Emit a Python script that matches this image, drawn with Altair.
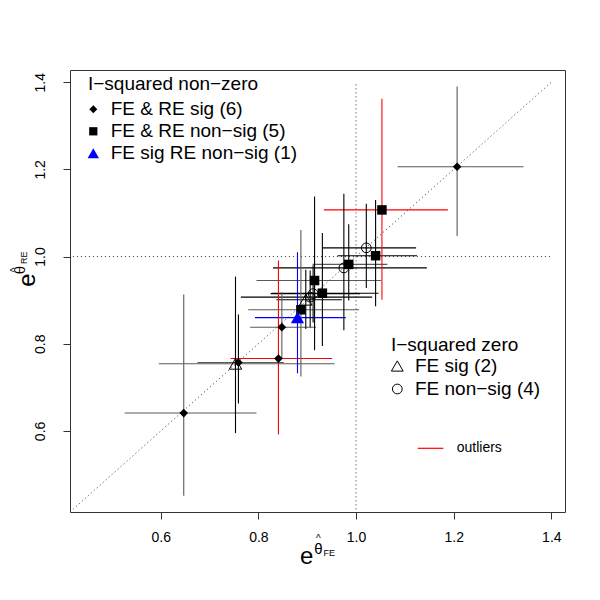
import altair as alt
import pandas as pd

FONT = "Liberation Sans"

# ---------------- data ----------------
point_id = list("ABCDEFGHIJKLMNOPQR")
kind = ["FE & RE sig", "FE & RE non-sig", "FE non-sig", "FE & RE non-sig", "FE & RE non-sig",
        "FE non-sig", "FE & RE non-sig", "FE & RE non-sig", "FE non-sig", "FE sig",
        "FE non-sig", "FE & RE non-sig", "FE sig RE non-sig", "FE & RE sig", "FE & RE sig",
        "FE & RE sig", "FE sig", "FE & RE sig"]
fe = [1.207, 1.053, 1.021, 1.040, 0.985, 0.975, 0.915, 0.931, 0.912, 0.897,
      0.906, 0.887, 0.880, 0.848, 0.841, 0.759, 0.753, 0.647]
re = [1.206, 1.107, 1.020, 1.002, 0.982, 0.974, 0.945, 0.916, 0.915, 0.901,
      0.907, 0.878, 0.860, 0.838, 0.766, 0.757, 0.754, 0.641]
fe_lo = [1.085, 0.934, 0.931, 0.962, 0.911, 0.830, 0.796, 0.827, 0.825, 0.837,
         0.764, 0.779, 0.793, 0.783, 0.743, 0.675, 0.596, 0.526]
fe_hi = [1.343, 1.188, 1.123, 1.125, 1.064, 1.145, 1.051, 1.046, 1.008, 0.971,
         1.033, 1.006, 0.979, 0.918, 0.951, 0.852, 0.956, 0.796]
re_lo = [1.047, 0.901, 0.928, 0.886, 0.899, 0.831, 0.785, 0.795, 0.849, 0.834,
         0.838, 0.725, 0.732, 0.766, 0.592, 0.663, 0.595, 0.451]
re_hi = [1.390, 1.362, 1.121, 1.130, 1.074, 1.144, 1.138, 1.054, 0.980, 0.970,
         0.968, 1.061, 1.010, 0.918, 0.991, 0.867, 0.954, 0.913]
h_group = ["sig", "outlier", "non-sig", "non-sig", "sig", "non-sig", "sig", "non-sig", "non-sig",
           "non-sig", "non-sig", "sig", "blue", "sig", "outlier", "sig", "sig", "sig"]
v_group = ["sig", "outlier", "non-sig", "non-sig", "non-sig", "non-sig", "non-sig", "non-sig",
           "non-sig", "non-sig", "non-sig", "sig", "blue", "sig", "outlier", "non-sig", "non-sig", "sig"]

ticks = [0.6, 0.8, 1.0, 1.2, 1.4]
ref_x = [0.42, 1.0, 0.42]
ref_y = [1.0, 0.42, 0.42]
ref_x2 = [1.40, 1.0, 1.40]
ref_y2 = [1.0, 1.40, 1.40]

df = pd.DataFrame(dict(id=point_id, kind=kind, fe=fe, re=re, fe_lo=fe_lo, fe_hi=fe_hi,
                       re_lo=re_lo, re_hi=re_hi, hgrp=h_group, vgrp=v_group))
ref = pd.DataFrame(dict(x=ref_x, y=ref_y, x2=ref_x2, y2=ref_y2))
one = pd.DataFrame({"k": [0]})

xs = alt.Scale(domain=[0.414, 1.428], nice=False, zero=False)
ys = alt.Scale(domain=[0.414, 1.428], nice=False, zero=False)
cs = alt.Scale(domain=["non-sig", "sig", "outlier", "blue"],
               range=["#000000", "#5a5a5a", "#ff0000", "#0000ff"])

xaxis = alt.Axis(values=ticks, format=".1f", title=None, grid=False, domain=False,
                 tickSize=7, tickColor="#333333", labelPadding=11, labelFontSize=14,
                 labelFont=FONT, labelColor="#000000")
yaxis = alt.Axis(values=ticks, format=".1f", title=None, grid=False, domain=False,
                 tickSize=7, tickColor="#333333", labelPadding=16, labelFontSize=14,
                 labelFont=FONT, labelColor="#000000", labelAngle=270,
                 labelAlign="center", labelBaseline="bottom")


def X(f):
    return alt.X(f, type="quantitative", scale=xs, axis=xaxis)


def Y(f):
    return alt.Y(f, type="quantitative", scale=ys, axis=yaxis)


refs = alt.Chart(ref).mark_rule(strokeDash=[1, 3], color="#333333", strokeWidth=1).encode(
    x=X("x"), y=Y("y"), x2="x2", y2="y2")

hbars = alt.Chart(df).mark_rule(strokeWidth=1.1).encode(
    x=X("fe_lo"), x2="fe_hi", y=Y("re"),
    color=alt.Color("hgrp:N", scale=cs, legend=None))
vbars = alt.Chart(df).mark_rule(strokeWidth=1.1).encode(
    x=X("fe"), y=Y("re_lo"), y2="re_hi",
    color=alt.Color("vgrp:N", scale=cs, legend=None))


def pts(k, **kw):
    return alt.Chart(df).transform_filter(alt.datum.kind == k).mark_point(opacity=1, **kw).encode(
        x=X("fe"), y=Y("re"))


p_dia = pts("FE & RE sig", shape="diamond", filled=True, color="black", size=75)
p_sq = pts("FE & RE non-sig", shape="square", filled=True, color="black", size=90)
p_bt = pts("FE sig RE non-sig", shape="triangle-up", filled=True, color="#0000ff", size=175)
p_ot = pts("FE sig", shape="triangle-up", filled=False, color="black", size=155, strokeWidth=1)
p_oc = pts("FE non-sig", shape="circle", filled=False, color="black", size=95, strokeWidth=1)


def label(text, x, y, size, align="left", baseline="middle", angle=0, color="black"):
    return alt.Chart(one).mark_text(text=text, fontSize=size, font=FONT, align=align,
                                    baseline=baseline, angle=angle, color=color).encode(
        x=alt.value(x), y=alt.value(y))


def sym(x, y, **kw):
    return alt.Chart(one).mark_point(opacity=1, **kw).encode(x=alt.value(x), y=alt.value(y))


legend = [
    label("I\u2212squared non\u2212zero", 18, 14, 19),
    sym(23.3, 39.3, shape="diamond", filled=True, color="black", size=64),
    label("FE & RE sig (6)", 40.7, 39.3, 19),
    sym(23.3, 61.3, shape="square", filled=True, color="black", size=68),
    label("FE & RE non\u2212sig (5)", 40.7, 61.3, 19),
    sym(23.3, 83.3, shape="triangle-up", filled=True, color="#0000ff", size=130),
    label("FE sig RE non\u2212sig (1)", 40.7, 83.3, 19),
    label("I\u2212squared zero", 321, 275, 19),
    sym(327.3, 296, shape="triangle-up", filled=False, color="black", size=140, strokeWidth=1),
    label("FE sig (2)", 345, 296, 19),
    sym(327.3, 319, shape="circle", filled=False, color="black", size=95, strokeWidth=1),
    label("FE non\u2212sig (4)", 345, 319, 19),
    alt.Chart(one).mark_rule(color="#ff0000", strokeWidth=1.2).encode(
        x=alt.value(347.7), x2=alt.value(373.3), y=alt.value(378.3)),
    label("outliers", 386.7, 378.3, 14),
]

titles = [
    # x axis title: e^{hat theta_FE}
    label("e", 236.7, 494, 24, align="center", baseline="alphabetic"),
    label("\u03b8", 248.3, 484, 15, align="center", baseline="alphabetic"),
    label("^", 248.3, 472, 10, align="center", baseline="alphabetic"),
    label("FE", 253.5, 485.5, 9, align="left", baseline="alphabetic"),
    # y axis title (rotated)
    label("e", -35, 210, 24, align="center", baseline="alphabetic", angle=270),
    label("\u03b8", -45, 200, 15, align="center", baseline="alphabetic", angle=270),
    label("^", -52, 200, 10, align="center", baseline="alphabetic", angle=270),
    label("RE", -43.5, 194, 9, align="left", baseline="alphabetic", angle=270),
]

chart = alt.layer(refs, hbars, vbars, p_dia, p_sq, p_bt, p_ot, p_oc, *legend, *titles).properties(
    width=495, height=442,
    autosize=alt.AutoSizeParams(type="none"),
    padding={"left": 62, "top": 62, "right": 27, "bottom": 80},
).configure_view(stroke="#333333", strokeWidth=1)

chart.save("out.html", embed_options={"renderer": "svg", "actions": False})
